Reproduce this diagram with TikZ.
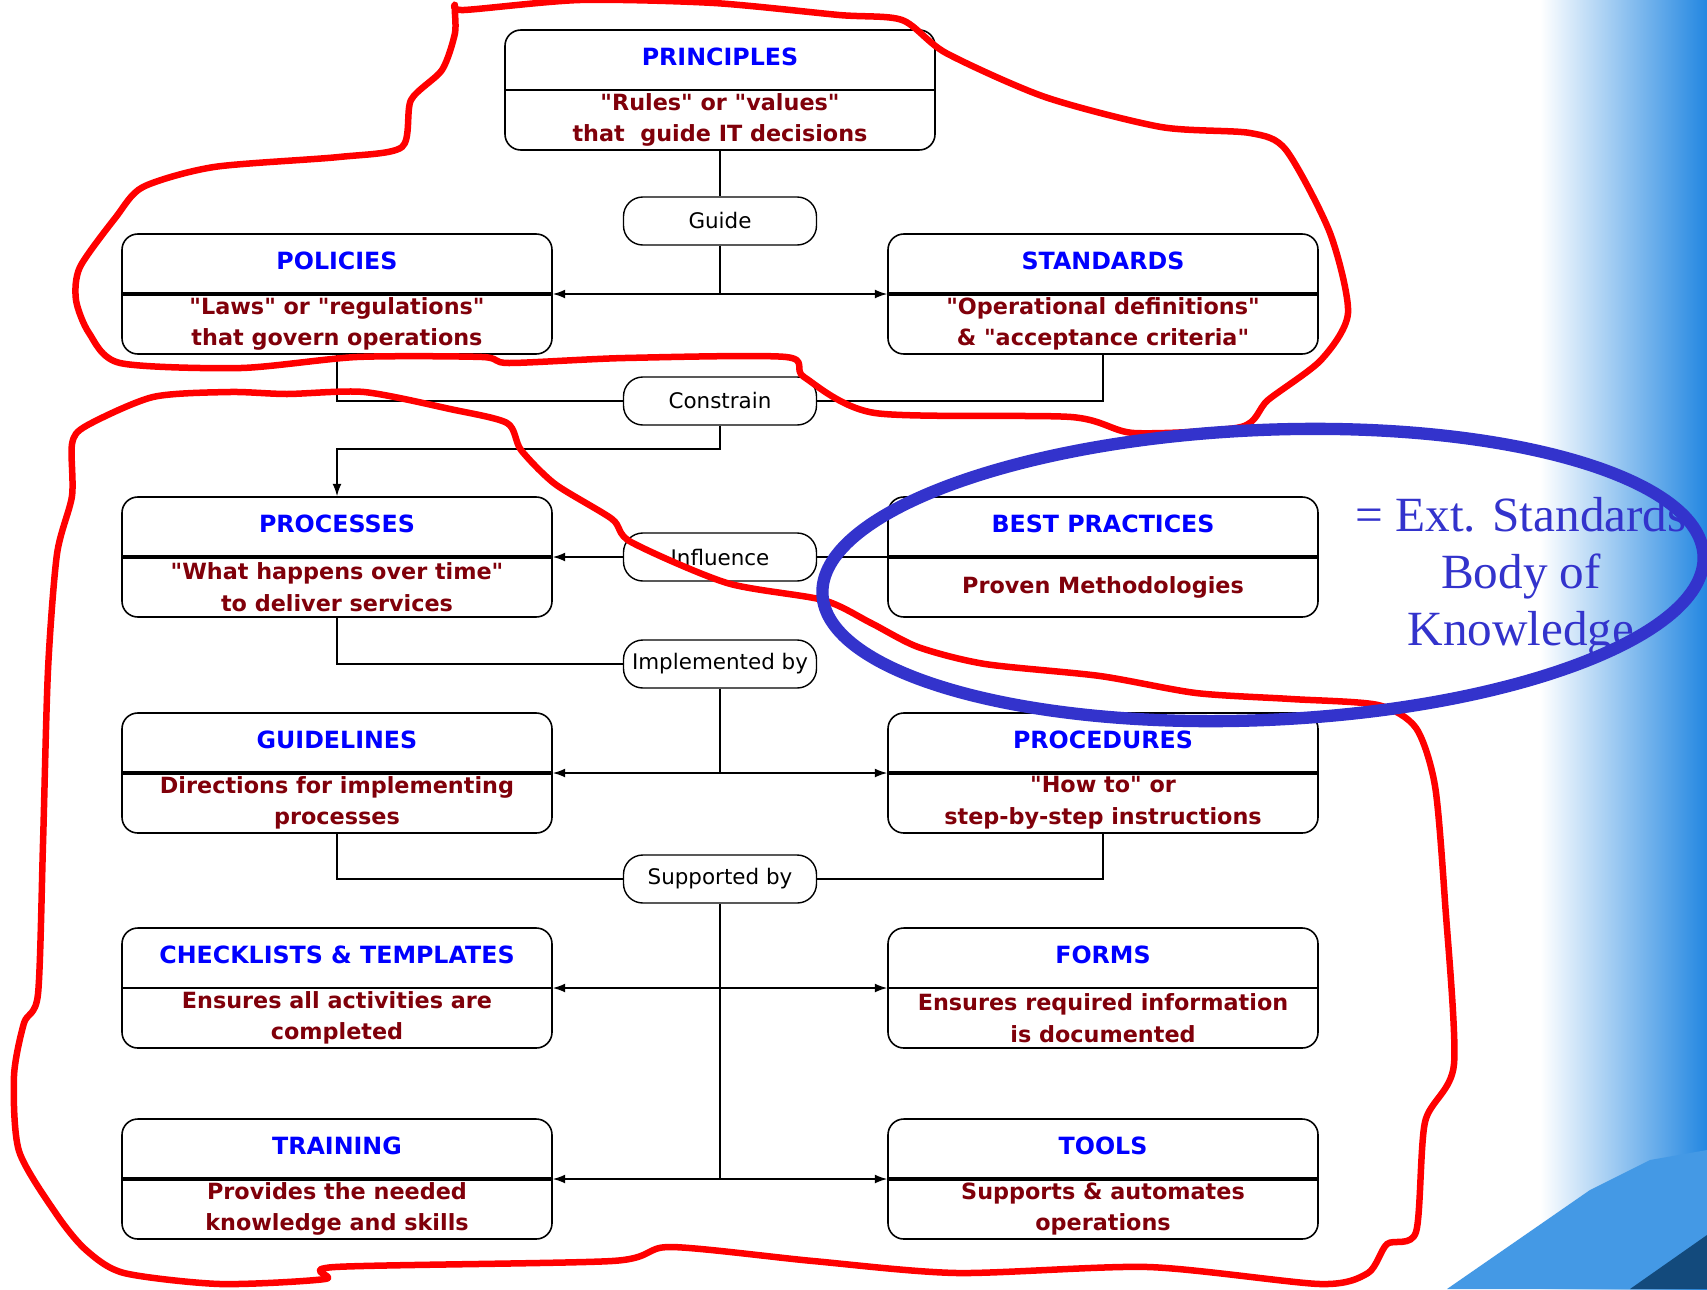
\documentclass[tikz,border=0pt]{standalone}
\usepackage{fontspec}
\usepackage{tikz}
\usetikzlibrary{positioning,arrows.meta,calc}
\newfontfamily\dvsans{DejaVu Sans}
\newfontfamily\lserif{Liberation Serif}
\definecolor{ittitle}{RGB}{0,0,255}
\definecolor{itbody}{RGB}{128,0,10}
\definecolor{bokblue}{RGB}{51,51,204}
\definecolor{slideblue}{RGB}{35,135,225}

\begin{document}
\begin{tikzpicture}[
  x=0.2mm, y=-0.2mm,
  box/.style={draw,rounded corners=9pt,line width=0.9pt,minimum width=86mm,minimum height=24mm,inner sep=0pt},
  ttl/.style={font=\dvsans\bfseries\fontsize{13.5}{16}\selectfont,text=ittitle,inner sep=0pt},
  txt/.style={font=\dvsans\bfseries\fontsize{12.7}{18}\selectfont,text=itbody,align=center,inner sep=0pt},
  rel/.style={draw,rounded corners=11pt,line width=0.8pt,minimum width=38.6mm,minimum height=9.6mm,
              inner sep=0pt,font=\dvsans\fontsize{12.2}{14}\selectfont},
  link/.style={line width=0.8pt},
  arrow/.style={-{Latex[length=7pt,width=5pt]},line width=0.8pt},
  thindiv/.style={line width=0.9pt},
  thickdiv/.style={line width=2.3pt},
  freehand/.style={red,line width=3.7pt,line join=round,line cap=round}
]
\useasboundingbox (0,0) rectangle (1707,1289);
% slide background
\fill[white] (0,0) rectangle (1707,1289);
\shade[left color=white,right color=slideblue] (1540,0) rectangle (1707,1289);
\fill[slideblue!85!white] (1447,1289) -- (1590,1190) -- (1650,1160) -- (1707,1150) -- (1707,1289) -- cycle;
\fill[slideblue!55!black] (1630,1289) -- (1707,1235) -- (1707,1289) -- cycle;

% boxes
\node[box] (principles) at (720,90) {};
\node[ttl] at ($(principles.north)+(0,28)$) {PRINCIPLES};
\node[txt] at ($(principles.center)+(0,30)$) {"Rules" or "values"\\that\ \ guide IT decisions};
\draw[thindiv] (principles.west) -- (principles.east);

\node[box] (policies) at (337,294) {};
\node[ttl] at ($(policies.north)+(0,28)$) {POLICIES};
\node[txt] at ($(policies.center)+(0,30)$) {"Laws" or "regulations"\\that govern operations};
\draw[thickdiv] (policies.west) -- (policies.east);

\node[box] (standards) at (1103,294) {};
\node[ttl] at ($(standards.north)+(0,28)$) {STANDARDS};
\node[txt] at ($(standards.center)+(0,30)$) {"Operational definitions"\\\& "acceptance criteria"};
\draw[thickdiv] (standards.west) -- (standards.east);

\node[box] (processes) at (337,557) {};
\node[ttl] at ($(processes.north)+(0,28)$) {PROCESSES};
\node[txt] at ($(processes.center)+(0,30)$) {"What happens over time"\\to deliver services};
\draw[thickdiv] (processes.west) -- (processes.east);

\node[box] (bestpractices) at (1103,557) {};
\node[ttl] at ($(bestpractices.north)+(0,28)$) {BEST PRACTICES};
\node[txt] at ($(bestpractices.center)+(0,30)$) {Proven Methodologies};
\draw[thickdiv] (bestpractices.west) -- (bestpractices.east);

\node[box] (guidelines) at (337,773) {};
\node[ttl] at ($(guidelines.north)+(0,28)$) {GUIDELINES};
\node[txt] at ($(guidelines.center)+(0,30)$) {Directions for implementing\\processes};
\draw[thickdiv] (guidelines.west) -- (guidelines.east);

\node[box] (procedures) at (1103,773) {};
\node[ttl] at ($(procedures.north)+(0,28)$) {PROCEDURES};
\node[txt] at ($(procedures.center)+(0,30)$) {"How to" or\\step-by-step instructions};
\draw[thickdiv] (procedures.west) -- (procedures.east);

\node[box] (checklists) at (337,988) {};
\node[ttl] at ($(checklists.north)+(0,28)$) {CHECKLISTS \& TEMPLATES};
\node[txt] at ($(checklists.center)+(0,30)$) {Ensures all activities are\\completed};
\draw[thindiv] (checklists.west) -- (checklists.east);

\node[box] (forms) at (1103,988) {};
\node[ttl] at ($(forms.north)+(0,28)$) {FORMS};
\node[txt] at ($(forms.center)+(0,30)$) {Ensures required information\\is documented};
\draw[thindiv] (forms.west) -- (forms.east);

\node[box] (training) at (337,1179) {};
\node[ttl] at ($(training.north)+(0,28)$) {TRAINING};
\node[txt] at ($(training.center)+(0,30)$) {Provides the needed\\knowledge and skills};
\draw[thickdiv] (training.west) -- (training.east);

\node[box] (tools) at (1103,1179) {};
\node[ttl] at ($(tools.north)+(0,28)$) {TOOLS};
\node[txt] at ($(tools.center)+(0,30)$) {Supports \& automates\\operations};
\draw[thickdiv] (tools.west) -- (tools.east);

% relation labels
\node[rel] (guide) at (720,221) {Guide};
\node[rel] (constrain) at (720,401) {Constrain};
\node[rel] (influence) at (720,557) {Influence};
\node[rel] (implemented) at (720,664) {Implemented by};
\node[rel] (supported) at (720,879) {Supported by};

\coordinate (guidej) at (720,294);
\coordinate (constrainj) at (720,449);
\coordinate (implj) at (720,773);
\coordinate (suppj) at (720,988);
\coordinate (suppend) at (720,1179);

% connectors
\draw[link] (principles.south) -- (guide.north);
\draw[link] (guide.south) -- (guidej);
\draw[arrow] (guidej) -- (policies.east);
\draw[arrow] (guidej) -- (standards.west);
\draw[link] (policies.south) |- (constrain.west);
\draw[link] (standards.south) |- (constrain.east);
\draw[arrow] (constrain.south) -- (constrainj) -| (processes.north);
\draw[link] (bestpractices.west) -- (influence.east);
\draw[arrow] (influence.west) -- (processes.east);
\draw[link] (processes.south) |- (implemented.west);
\draw[link] (implemented.south) -- (implj);
\draw[arrow] (implj) -- (guidelines.east);
\draw[arrow] (implj) -- (procedures.west);
\draw[link] (guidelines.south) |- (supported.west);
\draw[link] (procedures.south) |- (supported.east);
\draw[link] (supported.south) -- (suppend);
\draw[arrow] (suppj) -- (checklists.east);
\draw[arrow] (suppj) -- (forms.west);
\draw[arrow] (suppend) -- (training.east);
\draw[arrow] (suppend) -- (tools.west);

% annotation
\node[font=\lserif\fontsize{28}{32.5}\selectfont,text=bokblue,align=center] (bok) at (1521,577)
  {= Ext. Standards\\Body of\\Knowledge};

% hand-drawn outlines
\draw[freehand] plot[smooth cycle,tension=0.45] coordinates {
  (455,5) (455,33) (442,70) (411,100) (402,147) (339,157) (214,167) (143,187) (116,217)
  (80,267) (76,300) (89,333) (120,363) (241,368) (357,357) (482,357) (509,363) (625,358)
  (786,357) (804,377) (875,413) (1071,417) (1134,433) (1241,427) (1268,400) (1321,360)
  (1348,313) (1330,233) (1286,150) (1250,133) (1161,127) (1045,97) (946,53) (902,20)
  (839,15) (714,3) (580,0) (464,10)};
\draw[freehand] plot[smooth cycle,tension=0.45] coordinates {
  (86,426) (153,397) (230,392) (287,394) (364,392) (450,409) (507,423) (521,450) (555,484)
  (612,519) (631,542) (727,583) (823,600) (871,623) (918,647) (985,664) (1100,676)
  (1196,693) (1291,699) (1378,705) (1416,728) (1435,786) (1445,902) (1454,1064)
  (1425,1122) (1416,1232) (1387,1244) (1368,1273) (1320,1284) (1148,1267) (957,1273)
  (813,1261) (670,1247) (612,1261) (335,1267) (325,1279) (220,1284) (124,1273) (86,1250)
  (57,1215) (19,1151) (14,1076) (24,1023) (38,994) (43,844) (48,670) (57,554) (72,496)
  (72,444)};
\draw[bokblue,line width=7pt,rotate around={2.5:(1263,575)}] (1263,575)
  ellipse [x radius=88.2mm,y radius=29mm];
\end{tikzpicture}
\end{document}
